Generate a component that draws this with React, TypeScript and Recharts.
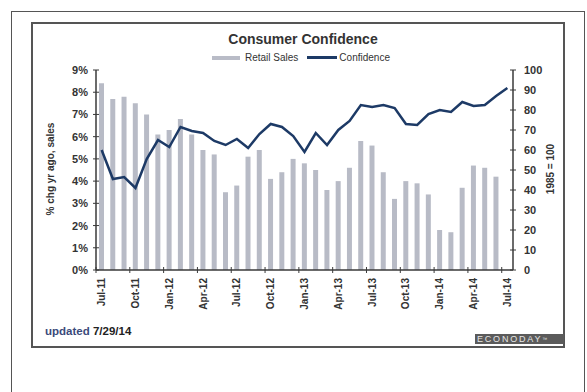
import { ComposedChart, Bar, Line, XAxis, YAxis } from 'recharts';

const months = [
  'Jul-11', 'Aug-11', 'Sep-11', 'Oct-11', 'Nov-11', 'Dec-11',
  'Jan-12', 'Feb-12', 'Mar-12', 'Apr-12', 'May-12', 'Jun-12',
  'Jul-12', 'Aug-12', 'Sep-12', 'Oct-12', 'Nov-12', 'Dec-12',
  'Jan-13', 'Feb-13', 'Mar-13', 'Apr-13', 'May-13', 'Jun-13',
  'Jul-13', 'Aug-13', 'Sep-13', 'Oct-13', 'Nov-13', 'Dec-13',
  'Jan-14', 'Feb-14', 'Mar-14', 'Apr-14', 'May-14', 'Jun-14',
  'Jul-14',
];

// retail sales, % chg yr ago (July 2014 not out yet)
const retailSales = [
  8.4, 7.7, 7.8, 7.5, 7.0, 6.1,
  6.3, 6.8, 6.1, 5.4, 5.2, 3.5,
  3.8, 5.1, 5.4, 4.1, 4.4, 5.0,
  4.8, 4.5, 3.6, 4.0, 4.6, 5.8,
  5.6, 4.4, 3.2, 4.0, 3.9, 3.4,
  1.8, 1.7, 3.7, 4.7, 4.6, 4.2,
  null,
];

// consumer confidence, 1985 = 100
const confidence = [
  60.0, 45.5, 46.5, 41.0, 55.5, 65.0,
  61.5, 71.5, 69.5, 68.5, 64.5, 62.5,
  65.5, 61.0, 68.0, 73.0, 71.5, 67.0,
  59.0, 68.5, 62.5, 70.0, 74.5, 82.5,
  81.5, 82.5, 81.0, 73.0, 72.5, 78.0,
  80.0, 79.0, 84.0, 82.0, 82.5, 87.0,
  91.0,
];

const pctTicks = [0, 1, 2, 3, 4, 5, 6, 7, 8, 9];
const indexTicks = [0, 10, 20, 30, 40, 50, 60, 70, 80, 90, 100];

const data = months.map((month, i) => ({
  month,
  sales: retailSales[i],
  conf: confidence[i],
}));

const FONT = '"Liberation Sans", Arial, sans-serif';
const AXIS = '#3a3a3a';
const W = 587;
const H = 392;
// plot area: x 96..513 -> 37 bands
const BAND = (513 - 96) / months.length;

function LeftTick({ x, y, payload }: any) {
  const ax = x + 8;
  return (
    <g>
      <line x1={ax - 3} x2={ax + 3} y1={y} y2={y} stroke={AXIS} strokeWidth={1} />
      <text x={x} y={y} dy={4} textAnchor="end" fontFamily={FONT} fontSize={11} fontWeight={700} fill="#333">
        {payload.value}%
      </text>
    </g>
  );
}

function RightTick({ x, y, payload }: any) {
  const ax = x - 11;
  return (
    <g>
      <line x1={ax - 3} x2={ax + 3} y1={y} y2={y} stroke={AXIS} strokeWidth={1} />
      <text x={x} y={y} dy={4} textAnchor="start" fontFamily={FONT} fontSize={11} fontWeight={700} fill="#333">
        {payload.value}
      </text>
    </g>
  );
}

function MonthTick({ x, y, payload }: any) {
  const ay = y - 8;
  const tx = x - BAND / 2;
  return (
    <g>
      <line x1={tx} x2={tx} y1={ay - 3} y2={ay + 3} stroke={AXIS} strokeWidth={1} />
      <text
        x={x}
        y={y}
        dy="0.35em"
        textAnchor="end"
        transform={`rotate(-90, ${x}, ${y})`}
        fontFamily={FONT}
        fontSize={10}
        fontWeight={700}
        fill="#333"
      >
        {payload.value}
      </text>
    </g>
  );
}

export default function App() {
  return (
    <div style={{ position: 'absolute', left: 0, top: 0, width: W, height: H, background: '#fff', fontFamily: FONT, overflow: 'hidden' }}>
      {/* outer page frame */}
      <div style={{ position: 'absolute', left: 11, top: 11, width: 574, height: H, border: '1.5px solid #555', boxSizing: 'border-box' }} />
      {/* chart frame */}
      <div style={{ position: 'absolute', left: 31, top: 22, width: 534, height: 326, border: '2px solid #555', boxSizing: 'border-box' }} />

      <div style={{ position: 'absolute', left: 0, width: 606, top: 31, textAlign: 'center', fontSize: 14, fontWeight: 700, color: '#333' }}>
        Consumer Confidence
      </div>

      {/* legend */}
      <div style={{ position: 'absolute', left: 212, top: 52, display: 'flex', alignItems: 'center', fontSize: 10, color: '#333', whiteSpace: 'nowrap' }}>
        <span style={{ display: 'inline-block', width: 28, height: 4, background: '#b9bcc7', marginRight: 5 }} />
        <span>Retail Sales</span>
        <span style={{ display: 'inline-block', width: 30, height: 2.5, background: '#1d3a66', margin: '0 2px 0 9px' }} />
        <span>Confidence</span>
      </div>

      {/* axis titles */}
      <div style={{ position: 'absolute', left: 50, top: 169, transform: 'translate(-50%, -50%) rotate(-90deg)', fontSize: 10, fontWeight: 700, color: '#333', whiteSpace: 'nowrap' }}>
        % chg yr ago, sales
      </div>
      <div style={{ position: 'absolute', left: 550, top: 169, transform: 'translate(-50%, -50%) rotate(-90deg)', fontSize: 10, fontWeight: 700, color: '#333', whiteSpace: 'nowrap' }}>
        1985 = 100
      </div>

      <div style={{ position: 'absolute', left: 0, top: 0 }}>
        <ComposedChart
          width={W}
          height={H}
          data={data}
          margin={{ top: 70, right: 34, bottom: 72, left: 56 }}
        >
          <XAxis
            dataKey="month"
            interval={2}
            tick={<MonthTick />}
            tickLine={false}
            tickSize={0}
            tickMargin={8}
            height={50}
            axisLine={{ stroke: AXIS, strokeWidth: 1.5 }}
          />
          <YAxis
            yAxisId="left"
            domain={[0, 9]}
            ticks={pctTicks}
            interval={0}
            tick={<LeftTick />}
            tickLine={false}
            tickSize={0}
            tickMargin={8}
            width={40}
            axisLine={{ stroke: AXIS, strokeWidth: 1.5 }}
          />
          <YAxis
            yAxisId="right"
            orientation="right"
            domain={[0, 100]}
            ticks={indexTicks}
            interval={0}
            tick={<RightTick />}
            tickLine={false}
            tickSize={0}
            tickMargin={11}
            width={40}
            axisLine={{ stroke: AXIS, strokeWidth: 1.5 }}
          />
          <Bar yAxisId="left" dataKey="sales" fill="#b8bbc6" barSize={5} isAnimationActive={false} />
          <Line
            yAxisId="right"
            dataKey="conf"
            type="linear"
            stroke="#1d3a66"
            strokeWidth={2.5}
            dot={false}
            isAnimationActive={false}
          />
        </ComposedChart>
      </div>

      <div style={{ position: 'absolute', left: 45, top: 325, fontSize: 11.5, fontWeight: 700, color: '#222', whiteSpace: 'nowrap' }}>
        <span style={{ color: '#3b4a7a' }}>updated</span> 7/29/14
      </div>

      <div style={{ position: 'absolute', left: 475, top: 334, width: 89, height: 10, background: '#5b5b5b', color: '#e6e6e6', fontSize: 9, lineHeight: '10px', letterSpacing: 1.8, paddingLeft: 2, boxSizing: 'border-box', whiteSpace: 'nowrap', overflow: 'hidden' }}>
        ECONODAY<span style={{ fontSize: 5, verticalAlign: 'top', letterSpacing: 0 }}>™</span>
      </div>
    </div>
  );
}
